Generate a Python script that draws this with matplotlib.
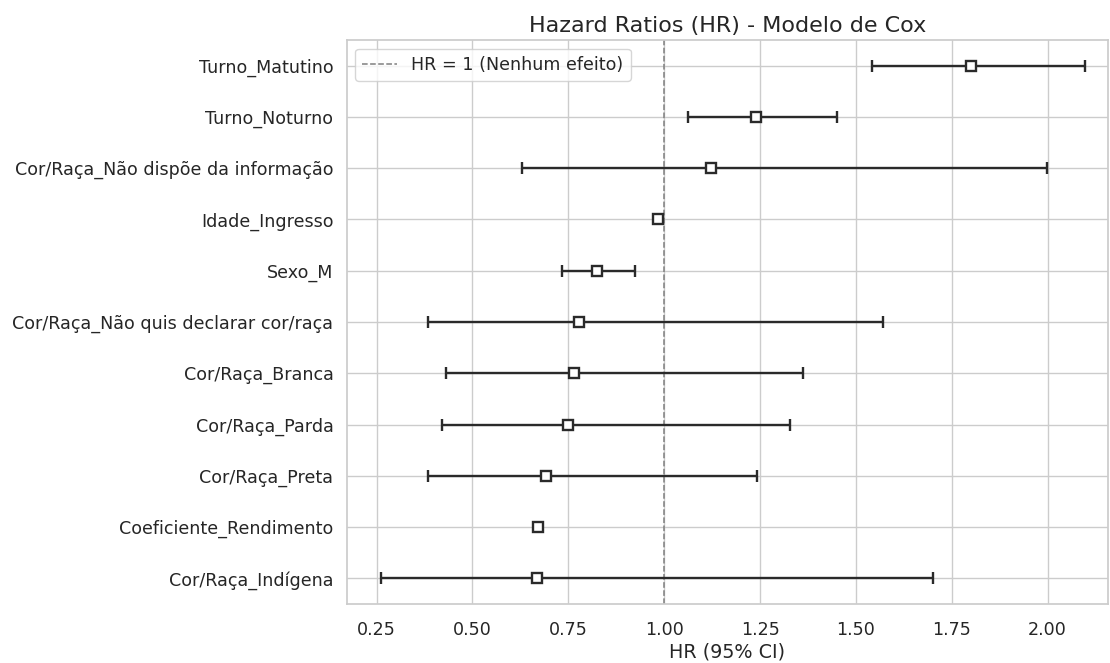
import matplotlib
matplotlib.use("Agg")
import matplotlib.pyplot as plt
import seaborn as sns
import numpy as np

# Covariates, bottom to top (sorted by HR ascending)
covariates = [
    "Cor/Raça_Indígena",
    "Coeficiente_Rendimento",
    "Cor/Raça_Preta",
    "Cor/Raça_Parda",
    "Cor/Raça_Branca",
    "Cor/Raça_Não quis declarar cor/raça",
    "Sexo_M",
    "Idade_Ingresso",
    "Cor/Raça_Não dispõe da informação",
    "Turno_Noturno",
    "Turno_Matutino",
]
hr = [0.669, 0.6715, 0.692, 0.749, 0.765, 0.777, 0.825, 0.984, 1.1225, 1.240, 1.800]
ci_lower = [0.262, 0.665, 0.385, 0.421, 0.431, 0.385, 0.734, 0.978, 0.629, 1.061, 1.542]
ci_upper = [1.700, 0.678, 1.243, 1.328, 1.361, 1.571, 0.924, 0.990, 1.998, 1.451, 2.0985]
xticks = [0.25, 0.50, 0.75, 1.00, 1.25, 1.50, 1.75, 2.00]

sns.set_theme(style="whitegrid")
plt.rcParams['font.family'] = ['DejaVu Sans']

fig = plt.figure(figsize=(11.1, 6.63), dpi=100)
ax = fig.add_axes([0.3123, 0.0890, 0.6857, 0.8507])

y = np.arange(len(covariates))
hr_a = np.array(hr)
lo = hr_a - np.array(ci_lower)
hi = np.array(ci_upper) - hr_a

ax.errorbar(hr_a, y, xerr=[lo, hi], fmt="s", color="#2a2a2a",
            markerfacecolor="white", markeredgewidth=1.7, markersize=7,
            elinewidth=1.7, capsize=4, capthick=1.7, zorder=3)
ax.axvline(1, color="gray", linestyle="--", linewidth=1.1, label="HR = 1 (Nenhum efeito)", zorder=2)

ax.set_yticks(y)
ax.set_yticklabels(covariates, fontsize=12.6)
ax.set_xticks(xticks)
ax.set_xticklabels([f"{t:.2f}" for t in xticks], fontsize=12.6)
ax.tick_params(axis="x", pad=6)
ax.set_xlim(0.172, 2.1567)
ax.set_ylim(-0.5, 10.5)
ax.set_xlabel("HR (95% CI)", fontsize=13.8, labelpad=3)
ax.set_title("Hazard Ratios (HR) - Modelo de Cox", fontsize=16, pad=6)
ax.legend(loc="upper left", fontsize=12.6)

fig.savefig("out.png", dpi=100)
